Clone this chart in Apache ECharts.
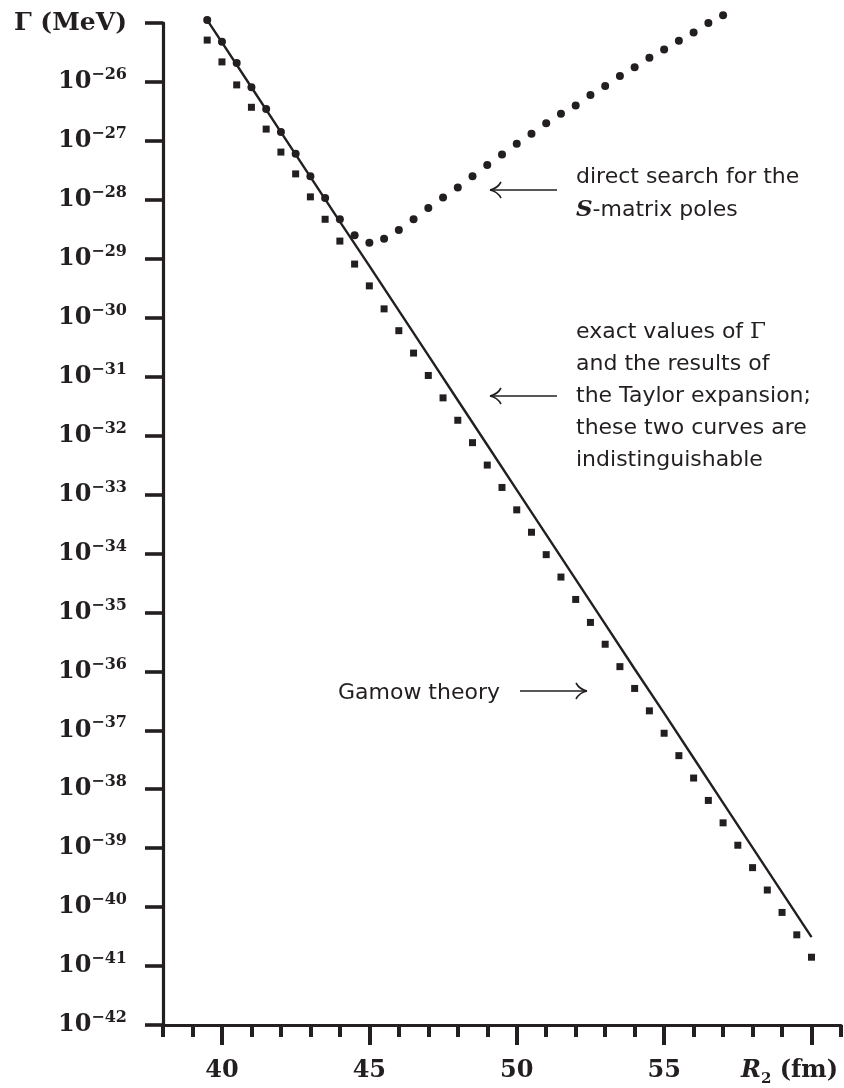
<!DOCTYPE html>
<html>
<head>
<meta charset="utf-8">
<script src="https://cdn.jsdelivr.net/npm/echarts@6/dist/echarts.min.js"></script>
<style>
  html, body { margin: 0; padding: 0; background: #ffffff; }
  #chart { width: 844px; height: 1088px; }
</style>
</head>
<body>
<div id="chart"></div>
<script>
// Decay width Γ versus outer radius R2; widths are stored as log10(Γ / MeV).

// Gamow theory (squares)
const R_GAMOW = [39.5, 40, 40.5, 41, 41.5, 42, 42.5, 43, 43.5, 44, 44.5, 45, 45.5, 46, 46.5, 47, 47.5, 48,
  48.5, 49, 49.5, 50, 50.5, 51, 51.5, 52, 52.5, 53, 53.5, 54, 54.5, 55, 55.5, 56, 56.5, 57, 57.5, 58,
  58.5, 59, 59.5, 60];
const LOG_GAMMA_GAMOW = [-25.29, -25.66, -26.05, -26.43, -26.80, -27.19, -27.56, -27.95, -28.33, -28.70,
  -29.09, -29.46, -29.85, -30.22, -30.60, -30.98, -31.36, -31.74, -32.12, -32.50, -32.88, -33.26,
  -33.64, -34.02, -34.40, -34.78, -35.17, -35.54, -35.92, -36.29, -36.67, -37.05, -37.43, -37.81,
  -38.19, -38.57, -38.95, -39.33, -39.71, -40.09, -40.47, -40.85];

// Exact values of Γ / Taylor expansion (solid curve)
const R_EXACT = [39.5, 40, 41, 42, 43, 44, 45, 46, 47, 48, 49, 50, 51, 52, 53, 54, 55, 56, 57, 58, 59, 60];
const LOG_GAMMA_EXACT = [-24.95, -25.33, -26.09, -26.85, -27.61, -28.37, -29.12, -29.88, -30.64, -31.40,
  -32.16, -32.92, -33.68, -34.44, -35.20, -35.96, -36.71, -37.47, -38.23, -38.99, -39.75, -40.51];

// Direct search for the S-matrix poles (dots)
const R_POLES = [39.5, 40, 40.5, 41, 41.5, 42, 42.5, 43, 43.5, 44, 44.5, 45, 45.5, 46, 46.5, 47, 47.5, 48,
  48.5, 49, 49.5, 50, 50.5, 51, 51.5, 52, 52.5, 53, 53.5, 54, 54.5, 55, 55.5, 56, 56.5, 57];
const LOG_GAMMA_POLES = [-24.95, -25.32, -25.68, -26.09, -26.46, -26.85, -27.22, -27.60, -27.97, -28.33,
  -28.60, -28.73, -28.66, -28.51, -28.33, -28.14, -27.96, -27.79, -27.60, -27.41, -27.23, -27.05,
  -26.88, -26.70, -26.54, -26.40, -26.22, -26.07, -25.90, -25.75, -25.59, -25.45, -25.30, -25.16,
  -25.00, -24.87];

// Axis ticks
const X_MAJOR_TICKS = [40, 45, 50, 55, 60];

const INK = '#231f20';
const SERIF = '"DejaVu Serif", serif';
const SANS = '"DejaVu Sans", "Open Sans", sans-serif';

const pairs = (xs, ys) => xs.map((x, i) => [x, ys[i]]);

// long arrow: shaft plus two curved barbs; dir = -1 points left, +1 points right
function arrow(tx, ty, len, dir) {
  const back = -dir;
  const st = { stroke: INK, lineWidth: 1.6, fill: null };
  return [
    { type: 'line', silent: true, shape: { x1: tx + back * len, y1: ty, x2: tx, y2: ty }, style: st },
    { type: 'bezierCurve', silent: true,
      shape: { x1: tx + back * 11, y1: ty - 8, cpx1: tx + back * 8, cpy1: ty - 2.5, x2: tx, y2: ty, cpx2: tx + back * 4, cpy2: ty - 0.8 },
      style: st },
    { type: 'bezierCurve', silent: true,
      shape: { x1: tx + back * 11, y1: ty + 8, cpx1: tx + back * 8, cpy1: ty + 2.5, x2: tx, y2: ty, cpx2: tx + back * 4, cpy2: ty + 0.8 },
      style: st }
  ];
}

function noteLine(x, y, text, align) {
  return {
    type: 'text', x: x, y: y, silent: true,
    style: {
      text: text, fill: INK, fontFamily: SANS, fontSize: 22, verticalAlign: 'middle', align: align || 'left',
      rich: {
        g: { fontFamily: SERIF, fontSize: 23, fill: INK },
        s: { fontFamily: SERIF, fontSize: 23, fontWeight: 'bold', fontStyle: 'italic', fill: INK }
      }
    }
  };
}

const chart = echarts.init(document.getElementById('chart'), null, { renderer: 'canvas' });

const baseXAxis = {
  type: 'value', min: 38, max: 61, interval: 1, position: 'bottom',
  splitLine: { show: false }
};

chart.setOption({
  backgroundColor: '#ffffff',
  animation: false,
  grid: { left: 163, right: 3, top: 23, bottom: 63, containLabel: false },
  xAxis: [
    Object.assign({}, baseXAxis, {
      axisLine: { show: true, onZero: false, lineStyle: { color: INK, width: 3.2 } },
      axisTick: { show: true, inside: false, length: 12, lineStyle: { color: INK, width: 4 } },
      axisLabel: { show: false }
    }),
    Object.assign({}, baseXAxis, {
      axisLine: { show: false, onZero: false },
      axisTick: { show: true, inside: false, length: 20, customValues: X_MAJOR_TICKS, lineStyle: { color: INK, width: 4 } },
      axisLabel: {
        show: true, margin: 34, customValues: X_MAJOR_TICKS, showMinLabel: true, showMaxLabel: true,
        color: INK, fontFamily: SERIF, fontWeight: 'bold', fontSize: 24,
        formatter: function (v) {
          if (v === 60) return '{r|R}{sub|2}{u| (fm)}';
          return '{n|' + v + '}';
        },
        rich: {
          n: { fontFamily: SERIF, fontWeight: 'bold', fontSize: 24, color: INK },
          r: { fontFamily: SERIF, fontWeight: 'bold', fontStyle: 'italic', fontSize: 24, color: INK },
          sub: { fontFamily: SERIF, fontWeight: 'bold', fontSize: 15, color: INK, verticalAlign: 'bottom', padding: [0, 0, -4, 0] },
          u: { fontFamily: SERIF, fontWeight: 'bold', fontSize: 24, color: INK, padding: [0, 44, 0, 0] }
        }
      }
    })
  ],
  yAxis: {
    type: 'value', min: -42, max: -25, interval: 1,
    splitLine: { show: false },
    axisLine: { show: true, onZero: false, lineStyle: { color: INK, width: 3.2 } },
    axisTick: { show: true, inside: false, length: 18, lineStyle: { color: INK, width: 3.6 } },
    axisLabel: {
      show: true, margin: 36, showMinLabel: true, showMaxLabel: true,
      color: INK,
      formatter: function (v) {
        if (v === -25) return '{t|Γ (MeV)}';
        return '{b|10}{s|−' + (-v) + '}';
      },
      rich: {
        t: { fontFamily: SERIF, fontWeight: 'bold', fontSize: 25, color: INK },
        b: { fontFamily: SERIF, fontWeight: 'bold', fontSize: 24, color: INK, lineHeight: 30 },
        s: { fontFamily: SERIF, fontWeight: 'bold', fontSize: 16, color: INK, verticalAlign: 'top', lineHeight: 16 }
      }
    }
  },
  series: [
    {
      name: 'Gamow theory', type: 'scatter', xAxisIndex: 0, clip: false,
      symbol: 'rect', symbolSize: 7, itemStyle: { color: INK, opacity: 1 },
      data: pairs(R_GAMOW, LOG_GAMMA_GAMOW), z: 3
    },
    {
      name: 'exact values / Taylor expansion', type: 'line', xAxisIndex: 0, clip: false,
      showSymbol: false, symbol: 'none', smooth: false,
      lineStyle: { color: INK, width: 2.4, opacity: 1 },
      data: pairs(R_EXACT, LOG_GAMMA_EXACT), z: 2
    },
    {
      name: 'direct search for the S-matrix poles', type: 'scatter', xAxisIndex: 0, clip: false,
      symbol: 'circle', symbolSize: 8, itemStyle: { color: INK, opacity: 1 },
      data: pairs(R_POLES, LOG_GAMMA_POLES), z: 4
    }
  ],
  graphic: [
    noteLine(576, 177, 'direct search for the'),
    noteLine(576, 210, '{s|S}-matrix poles'),
    noteLine(576, 332, 'exact values of {g|Γ}'),
    noteLine(576, 364, 'and the results of'),
    noteLine(576, 396, 'the Taylor expansion;'),
    noteLine(576, 428, 'these two curves are'),
    noteLine(576, 460, 'indistinguishable'),
    noteLine(500, 693, 'Gamow theory', 'right')
  ].concat(arrow(490, 190, 67, -1), arrow(490, 396, 67, -1), arrow(587, 691, 67, 1))
});
</script>
</body>
</html>
